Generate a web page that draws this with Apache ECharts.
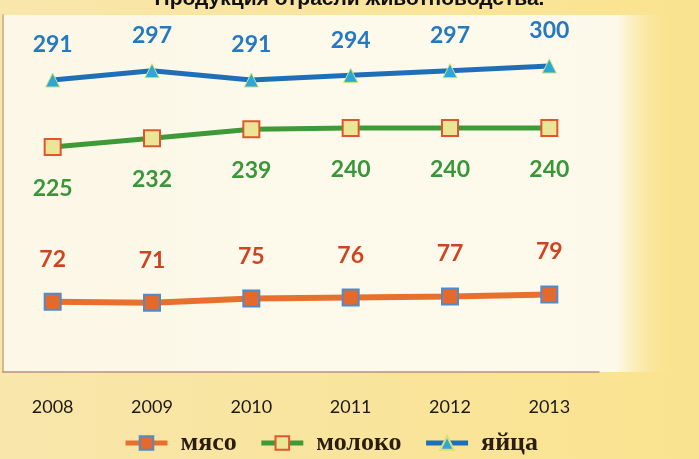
<!DOCTYPE html>
<html>
<head>
<meta charset="utf-8">
<script src="https://cdn.jsdelivr.net/npm/echarts@6/dist/echarts.min.js"></script>
<style>
  html, body { margin: 0; padding: 0; }
  #chart { width: 699px; height: 459px; }
</style>
</head>
<body>
<div id="chart"></div>
<script>
// данные графика
const years = ['2008', '2009', '2010', '2011', '2012', '2013']
const seriesNames = ['мясо', 'молоко', 'яйца']
const meat = [72, 71, 75, 76, 77, 79]
const milk = [225, 232, 239, 240, 240, 240]
const eggs = [291, 297, 291, 294, 297, 300]

const chart = echarts.init(document.getElementById('chart'))

const labelFont = { fontFamily: 'Lato', fontWeight: 'bold', fontSize: 23 }

// каждая линия на своей скрытой оси, как в исходной схеме
const hiddenAxis = (min, max, showLine) => ({
  type: 'value',
  min, max,
  show: true,
  axisLine: { show: showLine, lineStyle: { color: '#c9a77a', width: 1.5 } },
  axisTick: { show: false },
  axisLabel: { show: false },
  splitLine: { show: false }
})

const option = {
  backgroundColor: new echarts.graphic.LinearGradient(0, 0, 1, 0, [
    { offset: 0, color: '#f8e6ab' },
    { offset: 1, color: '#fae38f' }
  ]),
  title: {
    text: 'Продукция отрасли животноводства.',
    left: 'center',
    top: -16,
    textStyle: { fontFamily: 'Liberation Sans', fontWeight: 'bold', fontSize: 21, color: '#111' }
  },
  graphic: [{
    type: 'rect',
    z: -10,
    silent: true,
    shape: { x: 3, y: 15, width: 667, height: 357 },
    style: {
      fill: new echarts.graphic.LinearGradient(0, 0, 1, 0, [
        { offset: 0, color: '#fcf7e6' },
        { offset: 0.5, color: '#fdfaec' },
        { offset: 0.92, color: '#fdf9ea' },
        { offset: 1, color: 'rgba(250,230,150,0)' }
      ])
    }
  }],
  grid: { left: 3, top: 15, width: 596, bottom: 87 },
  xAxis: {
    type: 'category',
    data: years,
    boundaryGap: true,
    axisLine: { lineStyle: { color: '#b98e88', width: 1.5 } },
    axisTick: { show: false },
    axisLabel: { margin: 26, color: '#1e1a14', fontFamily: 'Lato', fontSize: 18 }
  },
  yAxis: [
    hiddenAxis(3.4, 351.7, true),
    hiddenAxis(47.4, 329.2, false),
    hiddenAxis(103.3, 332.8, false)
  ],
  legend: {
    data: seriesNames,
    left: 118,
    top: 425,
    itemWidth: 42,
    itemHeight: 17,
    itemGap: 22,
    lineStyle: { width: 5 },
    textStyle: {
      fontFamily: 'Liberation Serif', fontWeight: 'bold', fontSize: 26, color: '#2b1d12',
      padding: [0, 0, 0, 8]
    }
  },
  series: [
    {
      name: seriesNames[0],
      type: 'line',
      yAxisIndex: 0,
      data: meat,
      symbol: 'rect',
      symbolSize: 16,
      lineStyle: { color: '#e8702e', width: 6 },
      itemStyle: { color: '#e4692c', borderColor: '#4f8ccc', borderWidth: 2 },
      label: { show: true, position: 'top', distance: 22, color: '#cf4420', ...labelFont }
    },
    {
      name: seriesNames[1],
      type: 'line',
      yAxisIndex: 1,
      data: milk,
      symbol: 'rect',
      symbolSize: 16,
      lineStyle: { color: '#3d9a36', width: 5 },
      itemStyle: { color: '#ebe596', borderColor: '#e2552f', borderWidth: 2 },
      label: { show: true, position: 'bottom', distance: 21, color: '#3a963a', ...labelFont }
    },
    {
      name: seriesNames[2],
      type: 'line',
      yAxisIndex: 2,
      data: eggs,
      symbol: 'triangle',
      symbolSize: 14,
      lineStyle: { color: '#1f6fb8', width: 5 },
      itemStyle: { color: '#2ba8d9', borderColor: '#d8e070', borderWidth: 1 },
      label: { show: true, position: 'top', distance: 16, color: '#2479c2', ...labelFont }
    }
  ]
}

chart.setOption(option)
</script>
</body>
</html>
